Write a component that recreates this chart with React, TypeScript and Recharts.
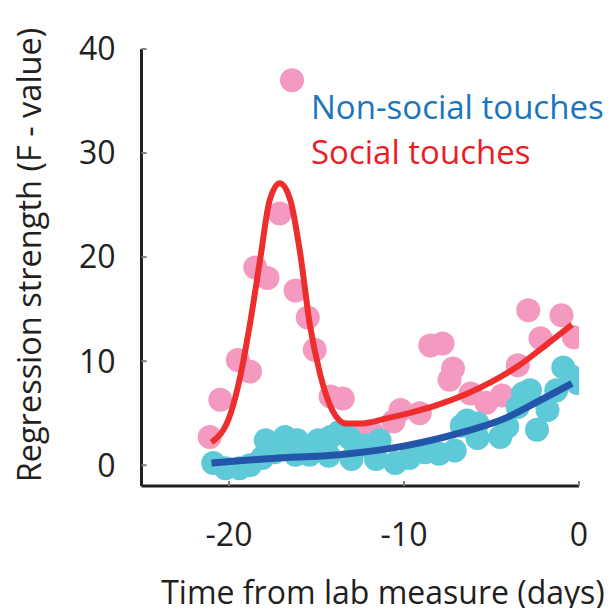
import { ComposedChart, Scatter, Line, XAxis, YAxis, Label } from "recharts";

// dots: [days, F-value]
const socialDots = [
  [-21.1, 2.7], [-20.5, 6.3], [-19.5, 10.1], [-18.8, 9.0], [-18.5, 19.0], [-17.8, 18.0],
  [-17.1, 24.2], [-16.4, 37.0], [-16.2, 16.8], [-15.5, 14.2], [-15.1, 11.1], [-14.2, 6.6],
  [-13.5, 6.4], [-12.9, 3.1], [-11.8, 3.1], [-10.6, 4.2], [-10.2, 5.3], [-9.1, 5.0],
  [-8.5, 11.5], [-7.8, 11.7], [-7.2, 9.3], [-7.4, 8.2], [-6.2, 6.9], [-5.3, 6.0],
  [-4.4, 6.7], [-3.5, 9.6], [-2.9, 14.9], [-2.2, 12.2], [-1.0, 14.4], [-0.3, 12.3]
];

const nonSocialDots = [
  [-20.9, 0.2], [-20.2, -0.3], [-19.4, -0.3], [-18.8, 0.0], [-18.1, 0.7], [-17.9, 2.4],
  [-17.4, 1.25], [-16.8, 2.7], [-16.2, 1.0], [-16.1, 2.4], [-15.4, 1.0], [-14.9, 2.4],
  [-14.2, 2.7], [-14.3, 0.9], [-13.7, 3.2], [-13.1, 2.6], [-13.0, 0.6], [-12.2, 1.9],
  [-11.4, 2.4], [-11.6, 0.6], [-10.5, 0.2], [-9.7, 0.7], [-8.8, 1.25], [-8.0, 1.1],
  [-7.1, 1.4], [-6.7, 3.8], [-6.4, 4.3], [-5.8, 2.6], [-5.8, 4.0], [-4.5, 2.7],
  [-4.1, 3.7], [-3.5, 5.6], [-3.2, 6.9], [-2.8, 7.2], [-2.4, 3.4], [-1.8, 5.3],
  [-1.3, 7.2], [-0.9, 9.4], [-0.4, 8.5], [-0.1, 7.9]
];

const socialFit = [
  [-21.0, 2.2], [-19.9, 5.0], [-19.4, 8.2], [-18.8, 13.6], [-18.2, 20.0], [-17.7, 25.3],
  [-17.1, 27.1], [-16.5, 25.5], [-15.9, 20.0], [-15.4, 13.7], [-14.8, 8.8], [-14.1, 5.3],
  [-13.3, 4.0], [-12.5, 4.0], [-11.0, 4.5], [-9.5, 5.1], [-8.0, 5.85], [-6.5, 6.8],
  [-5.0, 8.0], [-3.5, 9.5], [-2.0, 11.4], [-0.4, 13.5]
];

const nonSocialFit = [
  [-21.0, 0.2], [-17.5, 0.65], [-13.7, 1.0], [-9.8, 1.9], [-7.0, 3.0], [-4.1, 4.6],
  [-2.2, 6.25], [-0.4, 7.85]
];

const xTicks = [-20, -10, 0];
const yTicks = [0, 10, 20, 30, 40];
const xDomain = [-25, 0];
const yDomain = [-2, 40];

const toRows = (pts: number[][]) => pts.map(([x, y]) => ({ x, y }));

const FONT = "'Open Sans', sans-serif";
const INK = "#231F20";

const dot = (fill: string) => (props: any) =>
  <circle cx={props.cx} cy={props.cy} r={12} fill={fill} />;

const layer: React.CSSProperties = { position: "absolute", left: 0, top: 0 };

export default function App() {
  return (
    <div style={{ position: "relative", margin: -8, width: 612, height: 616 }}>
      {/* bottom layer: axes and dots */}
      <div style={layer}>
        <ComposedChart
          width={612}
          height={616}
          margin={{ top: 49, right: 33, left: 61.5, bottom: 70 }}
        >
          <XAxis
            type="number"
            dataKey="x"
            domain={xDomain}
            ticks={xTicks}
            allowDataOverflow
            height={60}
            axisLine={{ stroke: INK, strokeWidth: 3 }}
            tickLine={{ stroke: "#808080", strokeWidth: 2 }}
            tickSize={-5}
            tickMargin={42}
            tick={{ fill: INK, fontSize: 32, fontFamily: FONT }}
          >
            <Label
              content={() => (
                <text x={383} y={604} textAnchor="middle" fill={INK} fontSize={32} fontFamily={FONT}>
                  Time from lab measure (days)
                </text>
              )}
            />
          </XAxis>
          <YAxis
            type="number"
            dataKey="y"
            domain={yDomain}
            ticks={yTicks}
            allowDataOverflow
            width={80}
            axisLine={{ stroke: INK, strokeWidth: 3 }}
            tickLine={{ stroke: "#808080", strokeWidth: 2 }}
            tickSize={-5}
            tickMargin={31}
            tick={{ fill: INK, fontSize: 32, fontFamily: FONT }}
          >
            <Label
              content={() => (
                <text
                  x={41}
                  y={255}
                  transform="rotate(-90 41 255)"
                  textAnchor="middle"
                  fill={INK}
                  fontSize={32.5}
                  fontFamily={FONT}
                >
                  Regression strength (F - value)
                </text>
              )}
            />
          </YAxis>
          <Scatter
            data={toRows(socialDots)}
            fill="#F49AC1"
            shape={dot("#F49AC1")}
            isAnimationActive={false}
          />
          <Scatter
            data={toRows(nonSocialDots)}
            fill="#5ECAD8"
            shape={dot("#5ECAD8")}
            isAnimationActive={false}
          />
        </ComposedChart>
      </div>

      {/* top layer: fitted curves, same plot box */}
      <div style={layer}>
        <ComposedChart
          width={612}
          height={616}
          margin={{ top: 49, right: 33, left: 141.5, bottom: 130 }}
        >
          <XAxis type="number" dataKey="x" domain={xDomain} allowDataOverflow hide />
          <YAxis type="number" dataKey="y" domain={yDomain} allowDataOverflow hide />
          <Line
            data={toRows(socialFit)}
            dataKey="y"
            type="monotone"
            stroke="#EE2D2D"
            strokeWidth={6}
            dot={false}
            activeDot={false}
            isAnimationActive={false}
          />
          <Line
            data={toRows(nonSocialFit)}
            dataKey="y"
            type="monotone"
            stroke="#2355A8"
            strokeWidth={7}
            dot={false}
            activeDot={false}
            isAnimationActive={false}
          />
        </ComposedChart>
      </div>

      <div
        style={{
          position: "absolute",
          left: 311,
          top: 84,
          fontFamily: FONT,
          fontSize: 33,
          lineHeight: "45px",
          whiteSpace: "nowrap"
        }}
      >
        <div style={{ color: "#1B75BC" }}>Non-social touches</div>
        <div style={{ color: "#ED1C24" }}>Social touches</div>
      </div>
    </div>
  );
}
